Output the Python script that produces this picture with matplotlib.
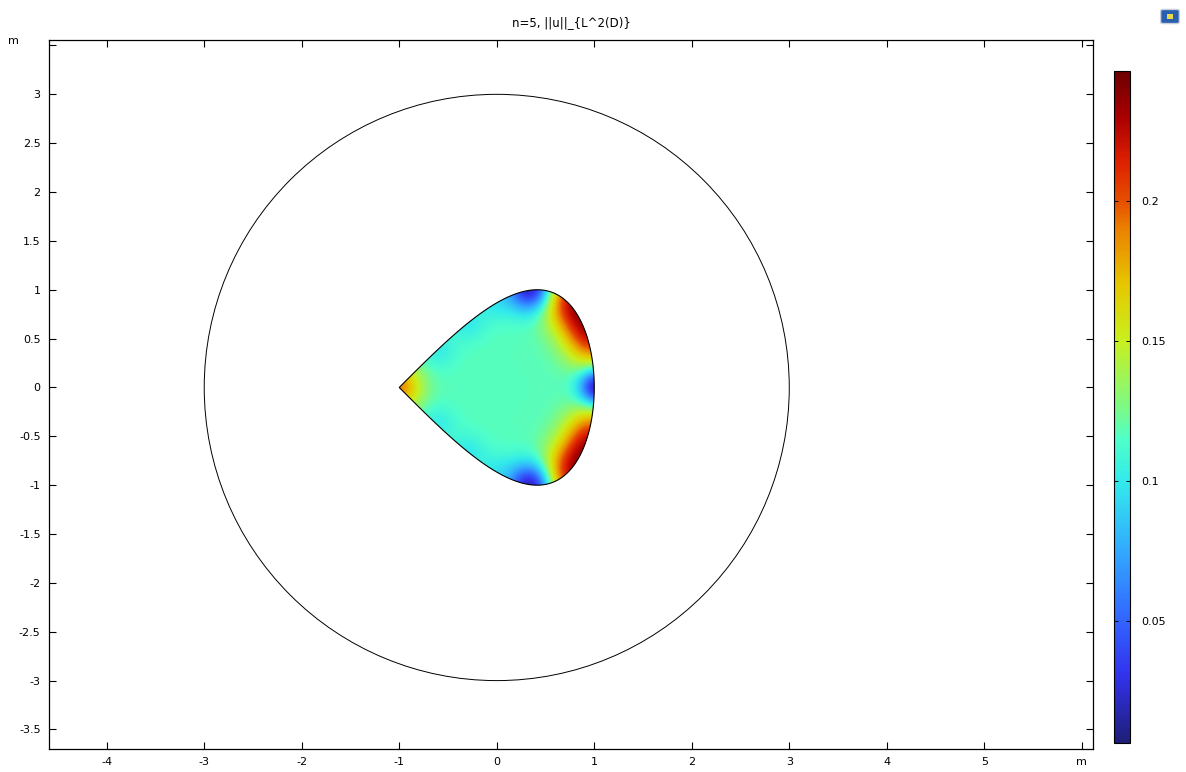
import numpy as np
import matplotlib
matplotlib.use("Agg")
import matplotlib.pyplot as plt
from matplotlib.colors import LinearSegmentedColormap
from matplotlib.path import Path
from matplotlib.patches import PathPatch, Circle, FancyBboxPatch

# ---------------- data ----------------
title_text = "n=5, ||u||_{L^2(D)}"
x_ticks = [-4, -3, -2, -1, 0, 1, 2, 3, 4, 5, 6]
x_tick_labels = ["-4", "-3", "-2", "-1", "0", "1", "2", "3", "4", "5", "m"]
y_ticks = [-3.5, -3, -2.5, -2, -1.5, -1, -0.5, 0, 0.5, 1, 1.5, 2, 2.5, 3, 3.5]
y_tick_labels = ["-3.5", "-3", "-2.5", "-2", "-1.5", "-1", "-0.5", "0",
                 "0.5", "1", "1.5", "2", "2.5", "3", ""]
cbar_ticks = [0.05, 0.1, 0.15, 0.2]
cbar_tick_labels = ["0.05", "0.1", "0.15", "0.2"]
value_min = 0.0064
value_max = 0.2464

outer_circle_radius = 3.0

# field: background level plus local extrema spots
base_value = 0.117
spot_x = [0.37, 0.37, 1.04, 0.68, 0.88, 0.99, 0.68, 0.88, 0.99, -1.0,
          -0.6, -0.3, -0.02, -0.6, -0.3, -0.02]
spot_y = [1.02, -1.02, 0.0, 0.97, 0.74, 0.46, -0.97, -0.74, -0.46, 0.0,
          0.38, 0.66, 0.86, -0.38, -0.66, -0.86]
spot_amp = [-0.115, -0.115, -0.105, 0.07, 0.076, 0.068, 0.07, 0.076, 0.068, 0.07,
            -0.014, -0.016, -0.014, -0.014, -0.016, -0.014]
spot_sigma = [0.17, 0.17, 0.13, 0.2, 0.2, 0.19, 0.2, 0.2, 0.19, 0.16,
              0.13, 0.13, 0.13, 0.13, 0.13, 0.13]

# colour stops (value, rgb) of the colour scale
cmap_values = [0.0064, 0.03, 0.05, 0.075, 0.1, 0.115, 0.125, 0.15, 0.17, 0.19, 0.2, 0.215, 0.23, 0.2464]
cmap_colors = [(30, 30, 120), (50, 50, 235), (50, 100, 255), (50, 170, 255), (50, 235, 235),
               (80, 255, 200), (120, 250, 140), (200, 240, 30), (230, 200, 0), (235, 130, 0),
               (230, 80, 0), (220, 30, 0), (170, 0, 0), (110, 0, 0)]

# ---------------- figure ----------------
W, H = 1186, 772
fig = plt.figure(figsize=(W / 100, H / 100), dpi=100)
fig.patch.set_facecolor("white")
plt.rcParams["font.family"] = ["DejaVu Sans"]
fs = 8

ax = fig.add_axes([49 / W, 1 - 749 / H, (1093 - 49) / W, (749 - 40) / H])
ax.set_xlim(-4.592, 6.115)
ax.set_ylim(-3.70, 3.556)

stops = [(v - value_min) / (value_max - value_min) for v in cmap_values]
cols = [tuple(c / 255 for c in rgb) for rgb in cmap_colors]
cmap = LinearSegmentedColormap.from_list("comsol_rainbow", list(zip(stops, cols)))

# teardrop domain D
t = np.linspace(0, 2 * np.pi, 800)
bx = 2 * np.sin(t / 2) - 1
by = np.sin(t)
domain_path = Path(np.column_stack([bx, by]), closed=True)

gx = np.linspace(-1.05, 1.05, 600)
gy = np.linspace(-1.05, 1.05, 600)
GX, GY = np.meshgrid(gx, gy)
F = np.full_like(GX, base_value)
for sx, sy, a, s in zip(spot_x, spot_y, spot_amp, spot_sigma):
    F += a * np.exp(-((GX - sx) ** 2 + (GY - sy) ** 2) / (2 * s ** 2))
F = np.clip(F, value_min, value_max)

im = ax.imshow(F, origin="lower", extent=[gx[0], gx[-1], gy[0], gy[-1]],
               cmap=cmap, vmin=value_min, vmax=value_max, interpolation="bilinear",
               aspect="auto", zorder=1)
clip_patch = PathPatch(domain_path, transform=ax.transData, facecolor="none", edgecolor="none")
ax.add_patch(clip_patch)
im.set_clip_path(clip_patch)
ax.add_patch(PathPatch(domain_path, facecolor="none", edgecolor="black", lw=0.8, zorder=3))

ax.add_patch(Circle((0, 0), outer_circle_radius, facecolor="none", edgecolor="black", lw=0.7, zorder=3))

ax.set_xticks(x_ticks)
ax.set_xticklabels(x_tick_labels)
ax.set_yticks(y_ticks)
ax.set_yticklabels(y_tick_labels)
ax.tick_params(direction="in", length=5, width=0.8, top=True, right=True,
               labelsize=fs, pad=6, colors="black")
for sp in ax.spines.values():
    sp.set_linewidth(0.9)

ax.set_title(title_text, fontsize=8.5, pad=10)
fig.text(8 / W, 1 - 41 / H, "m", fontsize=fs, ha="left", va="center")

# colour bar
cax = fig.add_axes([1114 / W, 1 - 743 / H, 16 / W, (743 - 71) / H])
cb = fig.colorbar(im, cax=cax)
cb.set_ticks(cbar_ticks)
cb.set_ticklabels(cbar_tick_labels)
cax.tick_params(axis="y", direction="in", length=3, width=0.7, left=True, right=True,
                labelsize=fs, pad=8)
cb.outline.set_linewidth(0.8)

# small logo at top right
fig.patches.append(FancyBboxPatch((1163 / W, 1 - 22 / H), 14 / W, 11 / H,
                                  boxstyle="round,pad=0.002", transform=fig.transFigure,
                                  facecolor="#2a5fb0", edgecolor="#c8d0dc", lw=1.0))
fig.patches.append(FancyBboxPatch((1167 / W, 1 - 19 / H), 6 / W, 5 / H,
                                  boxstyle="square,pad=0", transform=fig.transFigure,
                                  facecolor="#e8d84a", edgecolor="none"))

fig.savefig("out.png", dpi=100)
